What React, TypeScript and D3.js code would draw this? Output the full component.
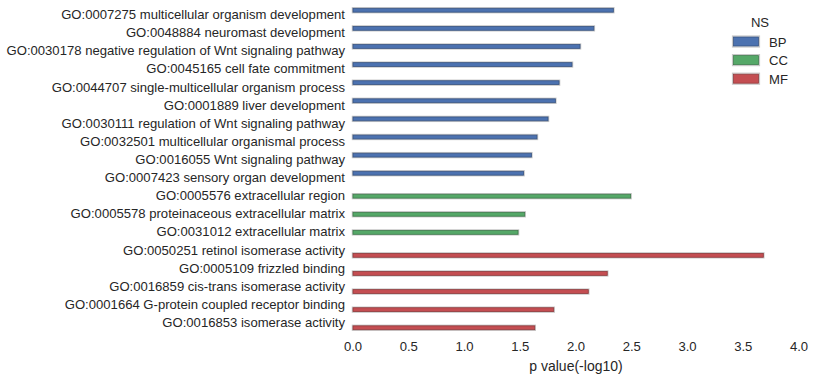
import React from "react";
import * as d3 from "d3";

const terms = [
  "GO:0007275 multicellular organism development",
  "GO:0048884 neuromast development",
  "GO:0030178 negative regulation of Wnt signaling pathway",
  "GO:0045165 cell fate commitment",
  "GO:0044707 single-multicellular organism process",
  "GO:0001889 liver development",
  "GO:0030111 regulation of Wnt signaling pathway",
  "GO:0032501 multicellular organismal process",
  "GO:0016055 Wnt signaling pathway",
  "GO:0007423 sensory organ development",
  "GO:0005576 extracellular region",
  "GO:0005578 proteinaceous extracellular matrix",
  "GO:0031012 extracellular matrix",
  "GO:0050251 retinol isomerase activity",
  "GO:0005109 frizzled binding",
  "GO:0016859 cis-trans isomerase activity",
  "GO:0001664 G-protein coupled receptor binding",
  "GO:0016853 isomerase activity",
];
const namespaces = ["BP", "BP", "BP", "BP", "BP", "BP", "BP", "BP", "BP", "BP", "CC", "CC", "CC", "MF", "MF", "MF", "MF", "MF"];
const pvalues = [2.335, 2.16, 2.036, 1.964, 1.848, 1.815, 1.749, 1.65, 1.60, 1.53, 2.49, 1.54, 1.48, 3.68, 2.28, 2.11, 1.80, 1.63];
const hues = ["BP", "CC", "MF"];
const hueColors = ["#4C72B0", "#55A868", "#C44E52"];
const xTicks = [0, 0.5, 1, 1.5, 2, 2.5, 3, 3.5, 4];

const W = 816, H = 379;
const M = { left: 353, right: 799, top: 5.5, bottom: 331.5 };

export default function App() {
  const x = d3.scaleLinear().domain([0, 4]).range([M.left, M.right]);
  const y = d3.scaleBand<string>().domain(terms).range([M.top, M.bottom]).paddingInner(0).paddingOuter(0);
  const hueBand = d3.scaleBand<string>().domain(hues).range([-0.4, 0.4]);
  const color = d3.scaleOrdinal<string, string>().domain(hues).range(hueColors);
  const step = y.step();
  const bw = hueBand.bandwidth() * step;
  const textColor = "#262626";
  const font = "'Liberation Sans', Arial, sans-serif";

  return (
    <svg width={W} height={H} style={{ position: "absolute", left: 0, top: 0, background: "#fff" }} fontFamily={font}>
      {terms.map((t, i) => {
        const ns = namespaces[i];
        const yc = (y(t) as number) + step / 2;
        const y0 = yc + (hueBand(ns) as number) * step;
        const x0 = x(0), x1 = x(pvalues[i]);
        const c = color(ns);
        const dark = d3.color(c)!.darker(0.9).formatHex();
        return (
          <g key={t}>
            <rect x={x0 - 0.5} y={y0 + 0.5} width={x1 - x0 + 1} height={bw} fill="none" stroke="#c8c8c8" strokeWidth={1.5} />
            <rect x={x0} y={y0 + 1} width={x1 - x0} height={bw - 1} fill={c} stroke={dark} strokeWidth={0.8} />
            <text x={M.left - 8} y={yc} textAnchor="end" dominantBaseline="central" fontSize={13.1} fill={textColor}>{t}</text>
          </g>
        );
      })}
      {xTicks.map((v) => (
        <text key={v} x={x(v)} y={346} textAnchor="middle" dominantBaseline="central" fontSize={13.1} fill={textColor}>
          {v.toFixed(1)}
        </text>
      ))}
      <text x={(M.left + M.right) / 2} y={366} textAnchor="middle" dominantBaseline="central" fontSize={14} fill={textColor}>
        p value(-log10)
      </text>
      <g>
        <text x={760} y={22} textAnchor="middle" dominantBaseline="central" fontSize={13.1} fill={textColor}>NS</text>
        {hues.map((h, i) => (
          <g key={h}>
            <rect x={732.5} y={36} width={27} height={11} transform={`translate(0,${i * 18.6})`} fill="none" stroke="#c8c8c8" strokeWidth={1.2} />
            <rect x={733.5} y={37} width={25} height={9} transform={`translate(0,${i * 18.6})`} fill={color(h)} stroke={d3.color(color(h))!.darker(0.9).formatHex()} strokeWidth={0.8} />
            <text x={769} y={42 + i * 18.6} dominantBaseline="central" fontSize={13.1} fill={textColor}>{h}</text>
          </g>
        ))}
      </g>
    </svg>
  );
}
